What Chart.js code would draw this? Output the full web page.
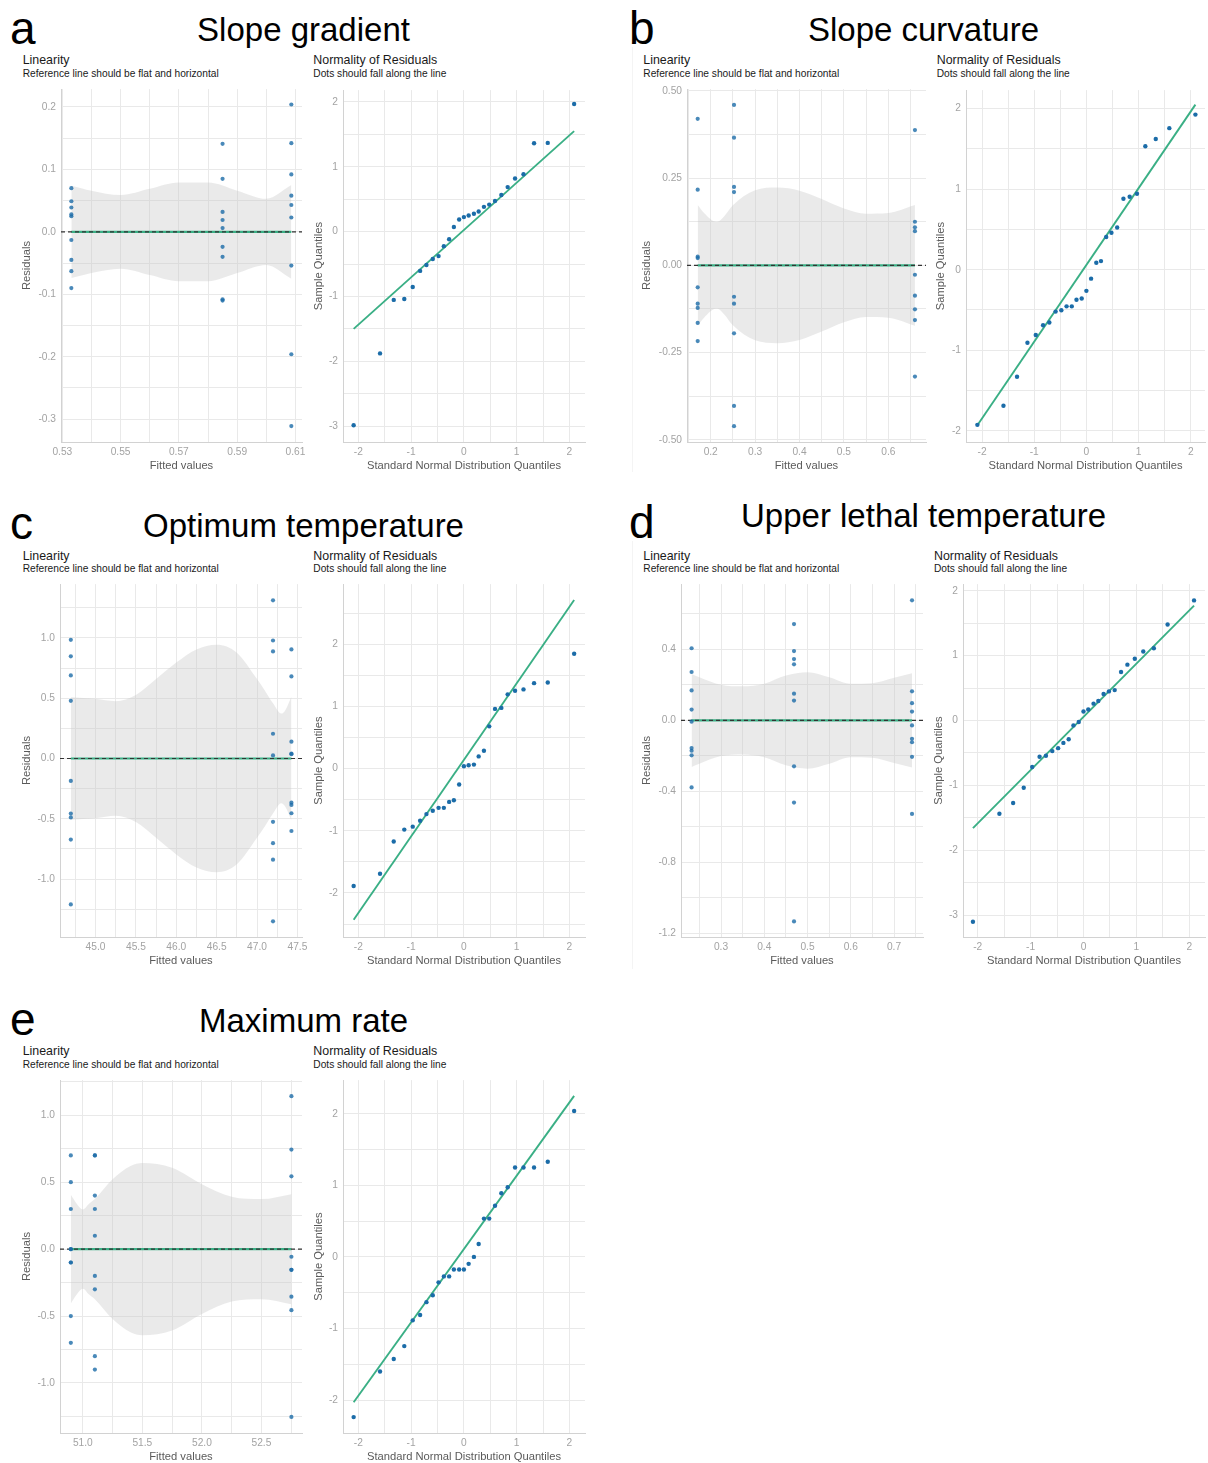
<!DOCTYPE html>
<html>
<head>
<meta charset="utf-8">
<title>Model checks</title>
<script src="https://cdn.jsdelivr.net/npm/chart.js@4.4.1/dist/chart.umd.min.js"></script>
<style>
  body { margin: 0; background: #fff; }
  #page { position: relative; width: 1208px; height: 1463px; overflow: hidden;
          font-family: "Liberation Sans", Arial, sans-serif; color: #111; }
  .txt { position: absolute; white-space: nowrap; line-height: 1; }
  .seam { position: absolute; width: 1px; background: #f4f4f4; }
  canvas { position: absolute; }
</style>
</head>
<body>
<div id="page"></div>
<script>
/* ==========================================================================
   DATA
   ========================================================================== */
// shared theoretical normal quantiles (27 residuals per model)
const theoQuantiles = [-2.09, -1.59, -1.33, -1.13, -0.97, -0.83, -0.71, -0.59, -0.48, -0.38, -0.28, -0.19, -0.09, 0,
                       0.09, 0.19, 0.28, 0.38, 0.48, 0.59, 0.71, 0.83, 0.97, 1.13, 1.33, 1.59, 2.09];

// a - Slope gradient
const aFitted = [0.5331, 0.5850, 0.6086];
const aResid = [
    [0.070, 0.049, 0.039, 0.028, 0.025, -0.013, -0.045, -0.063, -0.090],
    [0.141, 0.085, 0.032, 0.019, 0.006, -0.024, -0.040, -0.108, -0.110],
    [0.204, 0.142, 0.092, 0.058, 0.043, 0.023, -0.054, -0.196, -0.311]
];
const aBandX = [0.5331, 0.540, 0.550, 0.560, 0.570, 0.580, 0.590, 0.600, 0.6086];
const aBandUp = [0.074, 0.066, 0.059, 0.069, 0.079, 0.079, 0.066, 0.053, 0.075];
const aSample = [-2.987, -1.878, -1.053, -1.038, -0.855, -0.606, -0.514, -0.422, -0.377, -0.224, -0.117, 0.071, 0.188,
                 0.224, 0.249, 0.275, 0.310, 0.382, 0.417, 0.473, 0.565, 0.687, 0.819, 0.885, 1.364, 1.369, 1.969];
const aQQLine = [-1.50, 1.55];

// b - Slope curvature
const bFitted = [0.1707, 0.2525, 0.660];
const bResid = [
    [0.420, 0.217, 0.025, 0.021, -0.063, -0.110, -0.122, -0.165, -0.217],
    [0.460, 0.366, 0.225, 0.210, -0.090, -0.110, -0.195, -0.403, -0.461],
    [0.388, 0.125, 0.109, 0.098, -0.027, -0.087, -0.126, -0.157, -0.319]
];
const bBandX = [0.1707, 0.185, 0.2135, 0.23, 0.25, 0.30, 0.35, 0.40, 0.45, 0.50, 0.55, 0.60, 0.660];
const bBandUp = [0.173, 0.150, 0.124, 0.140, 0.172, 0.215, 0.223, 0.214, 0.190, 0.163, 0.148, 0.150, 0.173];
const bSample = [-1.926, -1.689, -1.328, -0.906, -0.811, -0.689, -0.656, -0.520, -0.504, -0.455, -0.455, -0.373, -0.357,
                 -0.262, -0.111, 0.086, 0.107, 0.406, 0.459, 0.525, 0.881, 0.906, 0.943, 1.533, 1.623, 1.758, 1.926];
const bQQLine = [-1.93, 2.05];

// c - Optimum temperature
const cFitted = [44.694, 47.198, 47.426];
const cResid = [
    [0.984, 0.847, 0.689, 0.478, -0.186, -0.456, -0.489, -0.672, -1.210],
    [1.311, 0.978, 0.888, 0.205, 0.025, -0.525, -0.702, -0.839, -1.350],
    [0.904, 0.680, 0.139, 0.041, 0.036, -0.366, -0.385, -0.454, -0.601]
];
const cBandX = [44.694, 45.0, 45.25, 45.5, 45.75, 46.0, 46.25, 46.5, 46.75, 47.0, 47.1, 47.2, 47.3, 47.35, 47.426];
const cBandUp = [0.508, 0.495, 0.475, 0.527, 0.658, 0.795, 0.904, 0.943, 0.877, 0.658, 0.560, 0.455, 0.372, 0.400, 0.514];
const cSample = [-1.889, -1.692, -1.172, -0.981, -0.934, -0.838, -0.732, -0.679, -0.631, -0.631, -0.536, -0.509, -0.255,
                 0.037, 0.053, 0.064, 0.196, 0.286, 0.679, 0.960, 0.976, 1.194, 1.252, 1.273, 1.374, 1.385, 1.846];
const cQQLine = [-2.43, 2.71];

// d - Upper lethal temperature
const dFitted = [0.232, 0.4688, 0.7416];
const dResid = [
    [0.407, 0.273, 0.169, 0.061, -0.007, -0.156, -0.171, -0.197, -0.378],
    [0.543, 0.391, 0.346, 0.316, 0.151, 0.112, -0.259, -0.463, -1.133],
    [0.677, 0.164, 0.097, 0.050, -0.028, -0.104, -0.123, -0.205, -0.527]
];
const dBandX = [0.232, 0.25, 0.30, 0.35, 0.40, 0.45, 0.50, 0.55, 0.60, 0.65, 0.70, 0.7416];
const dBandUp = [0.262, 0.244, 0.201, 0.192, 0.207, 0.253, 0.272, 0.244, 0.207, 0.210, 0.240, 0.266];
const dSample = [-3.103, -1.439, -1.272, -1.038, -0.717, -0.560, -0.544, -0.473, -0.427, -0.346, -0.290, -0.076, -0.025,
                 0.137, 0.168, 0.259, 0.300, 0.407, 0.448, 0.468, 0.748, 0.860, 0.951, 1.063, 1.114, 1.480, 1.851];
const dQQLine = [-1.66, 1.77];

// e - Maximum rate
const eFitted = [50.899, 51.101, 52.752];
const eResid = [
    [0.70, 0.50, 0.30, 0.00, 0.00, -0.10, -0.10, -0.50, -0.70],
    [0.70, 0.70, 0.40, 0.30, 0.10, -0.20, -0.30, -0.80, -0.90],
    [1.143, 0.744, 0.544, -0.057, -0.155, -0.155, -0.355, -0.456, -1.254]
];
const eBandX = [50.899, 50.95, 51.0, 51.05, 51.101, 51.25, 51.4, 51.5, 51.75, 52.0, 52.25, 52.5, 52.752];
const eBandUp = [0.406, 0.337, 0.296, 0.337, 0.374, 0.522, 0.621, 0.643, 0.608, 0.485, 0.392, 0.374, 0.411];
const eSample = [-2.238, -1.601, -1.426, -1.246, -0.886, -0.812, -0.632, -0.535, -0.355, -0.272, -0.272, -0.175, -0.175,
                 -0.175, -0.097, 0.000, 0.180, 0.535, 0.535, 0.715, 0.890, 0.973, 1.250, 1.250, 1.250, 1.329, 2.039];
const eQQLine = [-2.03, 2.25];

/* ==========================================================================
   TICKS (grid positions and their labels, '' = minor grid line only)
   ========================================================================== */
const qqXTicks = [-2, -1.5, -1, -0.5, 0, 0.5, 1, 1.5, 2];
const qqXLabels = ['-2', '', '-1', '', '0', '', '1', '', '2'];
const qqY3Ticks = [-3, -2.5, -2, -1.5, -1, -0.5, 0, 0.5, 1, 1.5, 2];
const qqY3Labels = ['-3', '', '-2', '', '-1', '', '0', '', '1', '', '2'];
const qqY2Ticks = [-2, -1.5, -1, -0.5, 0, 0.5, 1, 1.5, 2];
const qqY2Labels = ['-2', '', '-1', '', '0', '', '1', '', '2'];
const qqYcTicks = [-2.5, -2, -1.5, -1, -0.5, 0, 0.5, 1, 1.5, 2, 2.5];
const qqYcLabels = ['', '-2', '', '-1', '', '0', '', '1', '', '2', ''];

const aXTicks = [0.53, 0.54, 0.55, 0.56, 0.57, 0.58, 0.59, 0.60, 0.61];
const aXLabels = ['0.53', '', '0.55', '', '0.57', '', '0.59', '', '0.61'];
const aYTicks = [-0.3, -0.25, -0.2, -0.15, -0.1, -0.05, 0, 0.05, 0.1, 0.15, 0.2];
const aYLabels = ['-0.3', '', '-0.2', '', '-0.1', '', '0.0', '', '0.1', '', '0.2'];

const bXTicks = [0.15, 0.2, 0.25, 0.3, 0.35, 0.4, 0.45, 0.5, 0.55, 0.6, 0.65];
const bXLabels = ['', '0.2', '', '0.3', '', '0.4', '', '0.5', '', '0.6', ''];
const bYTicks = [-0.5, -0.375, -0.25, -0.125, 0, 0.125, 0.25, 0.375, 0.5];
const bYLabels = ['-0.50', '', '-0.25', '', '0.00', '', '0.25', '', '0.50'];

const cXTicks = [44.75, 45, 45.25, 45.5, 45.75, 46, 46.25, 46.5, 46.75, 47, 47.25, 47.5];
const cXLabels = ['', '45.0', '', '45.5', '', '46.0', '', '46.5', '', '47.0', '', '47.5'];
const cYTicks = [-1.25, -1, -0.75, -0.5, -0.25, 0, 0.25, 0.5, 0.75, 1, 1.25];
const cYLabels = ['', '-1.0', '', '-0.5', '', '0.0', '', '0.5', '', '1.0', ''];

const dXTicks = [0.25, 0.3, 0.35, 0.4, 0.45, 0.5, 0.55, 0.6, 0.65, 0.7, 0.75];
const dXLabels = ['', '0.3', '', '0.4', '', '0.5', '', '0.6', '', '0.7', ''];
const dYTicks = [-1.2, -1.0, -0.8, -0.6, -0.4, -0.2, 0, 0.2, 0.4, 0.6];
const dYLabels = ['-1.2', '', '-0.8', '', '-0.4', '', '0.0', '', '0.4', ''];

const eXTicks = [51, 51.25, 51.5, 51.75, 52, 52.25, 52.5, 52.75];
const eXLabels = ['51.0', '', '51.5', '', '52.0', '', '52.5', ''];
const eYTicks = [-1.25, -1, -0.75, -0.5, -0.25, 0, 0.25, 0.5, 0.75, 1, 1.25];
const eYLabels = ['', '-1.0', '', '-0.5', '', '0.0', '', '0.5', '', '1.0', ''];

/* ==========================================================================
   STYLE
   ========================================================================== */
const GREEN = '#3aaf85';
const BLUE = '#1b6ca8';
const BLUE_SOFT = 'rgba(27, 108, 168, 0.8)';
const BAND = 'rgba(200, 200, 200, 0.38)';
const GRID = '#e9e9e9';
const AXIS_LINE = '#d2d2d2';
const TICK_TEXT = '#a3a3a3';
const TITLE_TEXT = '#5a5a5a';
const TICK_FONT = 10.2;
const AXIS_FONT = 11.2;

Chart.defaults.font.family = '"Liberation Sans", Arial, sans-serif';

const page = document.getElementById('page');

/* ==========================================================================
   TEXT HELPERS
   ========================================================================== */
function addText(str, x, baseline, size, centered, color) {
    const el = document.createElement('div');
    el.className = 'txt';
    el.textContent = str;
    el.style.fontSize = size + 'px';
    el.style.left = x + 'px';
    el.style.top = (baseline - 0.8465 * size) + 'px';
    if (centered) el.style.transform = 'translateX(-50%)';
    if (color) el.style.color = color;
    page.appendChild(el);
}

function addHeader(letter, title, col, row) {
    const letterX = col === 0 ? 10 : 629;
    const titleX = col === 0 ? 303.5 : 923.5;
    addText(letter, letterX, row.letter, 46, false, '#000');
    addText(title, titleX, row.title, 33, true, '#000');
}

function addSubHeaders(x1, x2, row) {
    addText('Linearity', x1, row.head, 12.4, false, '#1a1a1a');
    addText('Reference line should be flat and horizontal', x1, row.sub, 10.2, false, '#1a1a1a');
    addText('Normality of Residuals', x2, row.head, 12.4, false, '#1a1a1a');
    addText('Dots should fall along the line', x2, row.sub, 10.2, false, '#1a1a1a');
}

function addSeam(x, top, height) {
    const el = document.createElement('div');
    el.className = 'seam';
    el.style.left = x + 'px';
    el.style.top = top + 'px';
    el.style.height = height + 'px';
    page.appendChild(el);
}

/* ==========================================================================
   CHART BUILDERS
   ========================================================================== */
function makeAxis(pos, range, ticks, labels, title, size) {
    return {
        type: 'linear',
        position: pos,
        min: range[0],
        max: range[1],
        afterBuildTicks: scale => { scale.ticks = ticks.map(v => ({ value: v })); },
        afterFit: scale => {
            if (pos === 'left') scale.width = size;
            else scale.height = size;
        },
        ticks: {
            callback: (value, index) => labels[index],
            autoSkip: false,
            maxRotation: 0,
            minRotation: 0,
            padding: pos === 'left' ? 5 : 4,
            color: TICK_TEXT,
            font: { size: TICK_FONT }
        },
        grid: { color: GRID, lineWidth: 1, drawTicks: false },
        border: { display: true, color: AXIS_LINE, width: 1 },
        title: { display: true, text: title, color: TITLE_TEXT, font: { size: AXIS_FONT }, padding: 0 }
    };
}

// box: chart area in page pixels plus the centre x of the y axis title
function makeChart(box, xAxis, yAxis, datasets) {
    const padTop = 8, padRight = 14, padBottom = 2, xH = 31;
    const yW = Math.round(box.L - box.titleX + AXIS_FONT * 0.6);
    const canvas = document.createElement('canvas');
    const w = yW + (box.R - box.L) + padRight;
    const h = padTop + (box.B - box.T) + xH + padBottom;
    canvas.width = w;
    canvas.height = h;
    canvas.style.width = w + 'px';
    canvas.style.height = h + 'px';
    canvas.style.left = (box.L - yW) + 'px';
    canvas.style.top = (box.T - padTop) + 'px';
    page.appendChild(canvas);

    return new Chart(canvas.getContext('2d'), {
        type: 'scatter',
        data: { datasets: datasets },
        options: {
            responsive: false,
            animation: false,
            events: [],
            devicePixelRatio: 1,
            layout: { padding: { left: 0, top: padTop, right: padRight, bottom: padBottom } },
            plugins: { legend: { display: false }, tooltip: { enabled: false } },
            scales: {
                x: makeAxis('bottom', xAxis.range, xAxis.ticks, xAxis.labels, xAxis.title, xH),
                y: makeAxis('left', yAxis.range, yAxis.ticks, yAxis.labels, yAxis.title, yW)
            }
        }
    });
}

function linearityDatasets(fitted, resid, bandX, bandUp, xRange) {
    const points = [];
    fitted.forEach((fx, i) => resid[i].forEach(r => points.push({ x: fx, y: r })));
    const upper = bandX.map((x, i) => ({ x: x, y: bandUp[i] }));
    const lower = bandX.map((x, i) => ({ x: x, y: -bandUp[i] }));
    const first = fitted[0], last = fitted[fitted.length - 1];
    return [
        { type: 'line', data: upper, borderWidth: 0, pointRadius: 0, fill: false,
          cubicInterpolationMode: 'monotone', order: 4 },
        { type: 'line', data: lower, borderWidth: 0, pointRadius: 0, fill: '-1', backgroundColor: BAND,
          cubicInterpolationMode: 'monotone', order: 3 },
        { type: 'line', data: [{ x: first, y: 0 }, { x: last, y: 0 }], borderColor: GREEN, borderWidth: 2.2,
          pointRadius: 0, fill: false, order: 2 },
        { type: 'line', data: [{ x: xRange[0], y: 0 }, { x: xRange[1], y: 0 }], borderColor: '#333',
          borderWidth: 1.1, borderDash: [4, 3], pointRadius: 0, fill: false, order: 1 },
        { type: 'scatter', data: points, pointRadius: 2.1, pointBackgroundColor: BLUE_SOFT,
          pointBorderWidth: 0, order: 0 }
    ];
}

function qqDatasets(sample, lineY) {
    const n = theoQuantiles.length;
    return [
        { type: 'line', data: [{ x: theoQuantiles[0], y: lineY[0] }, { x: theoQuantiles[n - 1], y: lineY[1] }],
          borderColor: GREEN, borderWidth: 1.9, pointRadius: 0, fill: false, order: 1 },
        { type: 'scatter', data: theoQuantiles.map((x, i) => ({ x: x, y: sample[i] })), pointRadius: 2.2,
          pointBackgroundColor: BLUE, pointBorderWidth: 0, order: 0 }
    ];
}

function qqPanel(box, yRange, yTicks, yLabels, xRange, sample, lineY) {
    makeChart(box,
        { range: xRange, ticks: qqXTicks, labels: qqXLabels, title: 'Standard Normal Distribution Quantiles' },
        { range: yRange, ticks: yTicks, labels: yLabels, title: 'Sample Quantiles' },
        qqDatasets(sample, lineY));
}

function linPanel(box, xRange, xTicks, xLabels, yRange, yTicks, yLabels, fitted, resid, bandX, bandUp) {
    makeChart(box,
        { range: xRange, ticks: xTicks, labels: xLabels, title: 'Fitted values' },
        { range: yRange, ticks: yTicks, labels: yLabels, title: 'Residuals' },
        linearityDatasets(fitted, resid, bandX, bandUp, xRange));
}

/* ==========================================================================
   LAYOUT
   ========================================================================== */
const rows = [
    { letter: 43.5, title: 40.5, head: 64.7, sub: 77.3 },
    { letter: 538.5, title: 537.3, head: 560, sub: 572.7 },
    { letter: 1034.5, title: 1032, head: 1055.2, sub: 1068.3 }
];

document.addEventListener('DOMContentLoaded', () => {
    // faint seams left by the original panel images
    addSeam(632, 47, 425);
    addSeam(632, 541, 428);

    // a
    addHeader('a', 'Slope gradient', 0, rows[0]);
    addSubHeaders(22.7, 313.3, rows[0]);
    linPanel({ L: 61, T: 86, R: 302, B: 442, titleX: 26.7 },
        [0.52955, 0.61226], aXTicks, aXLabels, [-0.3365, 0.2286], aYTicks, aYLabels,
        aFitted, aResid, aBandX, aBandUp);
    qqPanel({ L: 343, T: 87, R: 585, B: 442, titleX: 318.3 },
        [-3.245, 2.183], qqY3Ticks, qqY3Labels, [-2.292, 2.296], aSample, aQQLine);

    // b
    addHeader('b', 'Slope curvature', 1, rows[0]);
    addSubHeaders(643.3, 936.7, rows[0]);
    linPanel({ L: 687, T: 86, R: 926, B: 442, titleX: 646.7 },
        [0.1466, 0.6849], bXTicks, bXLabels, [-0.5065, 0.5053], bYTicks, bYLabels,
        bFitted, bResid, bBandX, bBandUp);
    qqPanel({ L: 966, T: 87, R: 1205, B: 442, titleX: 940.7 },
        [-2.139, 2.23], qqY2Ticks, qqY2Labels, [-2.308, 2.274], bSample, bQQLine);

    // c
    addHeader('c', 'Optimum temperature', 0, rows[1]);
    addSubHeaders(22.7, 313.3, rows[1]);
    linPanel({ L: 60, T: 581, R: 302, B: 937, titleX: 26.7 },
        [44.56, 47.557], cXTicks, cXLabels, [-1.48, 1.4456], cYTicks, cYLabels,
        cFitted, cResid, cBandX, cBandUp);
    qqPanel({ L: 343, T: 581, R: 585, B: 937, titleX: 318.3 },
        [-2.708, 2.966], qqYcTicks, qqYcLabels, [-2.292, 2.296], cSample, cQQLine);

    // d
    addHeader('d', 'Upper lethal temperature', 1, { letter: 538.3, title: 526.5 });
    addSubHeaders(643.3, 934, rows[1]);
    linPanel({ L: 681, T: 581, R: 923, B: 937, titleX: 646.7 },
        [0.2075, 0.767], dXTicks, dXLabels, [-1.221, 0.7684], dYTicks, dYLabels,
        dFitted, dResid, dBandX, dBandUp);
    qqPanel({ L: 963, T: 581, R: 1205, B: 937, titleX: 938.3 },
        [-3.339, 2.102], qqY3Ticks, qqY3Labels, [-2.278, 2.297], dSample, dQQLine);

    // e
    addHeader('e', 'Maximum rate', 0, rows[2]);
    addSubHeaders(22.7, 313.3, rows[2]);
    linPanel({ L: 60, T: 1077, R: 302, B: 1433, titleX: 26.7 },
        [50.808, 52.841], eXTicks, eXLabels, [-1.374, 1.263], eYTicks, eYLabels,
        eFitted, eResid, eBandX, eBandUp);
    qqPanel({ L: 343, T: 1077, R: 585, B: 1433, titleX: 318.3 },
        [-2.46, 2.47], qqY2Ticks, qqY2Labels, [-2.292, 2.296], eSample, eQQLine);
});
</script>
</body>
</html>
